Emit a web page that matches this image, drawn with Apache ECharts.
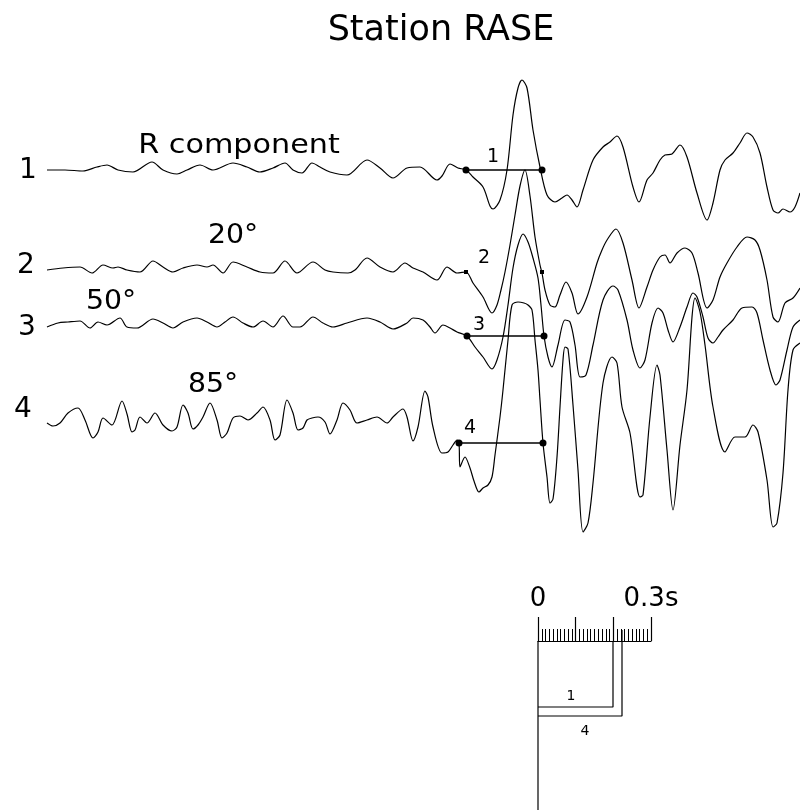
<!DOCTYPE html>
<html>
<head>
<meta charset="utf-8">
<script src="https://cdn.jsdelivr.net/npm/echarts@6/dist/echarts.min.js"></script>
<style>
  html, body { margin: 0; padding: 0; background: #fff; }
  #chart { width: 800px; height: 810px; }
</style>
</head>
<body>
<div id="chart"></div>
<script>
const trace1 = [[47,170],[65,170],[83,171],[97,167],[107,165],[118,170],[133,172],[152,162],[163,170],[177,174],[187,170],[200,165],[213,170],[233,163],[247,167],[260,172],[273,168],[285,163],[293,170],[302,173],[312,163],[320,167],[330,172],[347,175],[367,160],[380,168],[393,178],[407,168],[420,167],[437,180],[442,176],[450,164],[458,168],[466,170],[473,177],[483,187],[490,206],[493,209],[500,200],[507,170],[513,115],[518,88],[522,80],[527,88],[533,130],[540,167],[547,195],[555,202],[562,198],[567,195],[572,200],[577,207],[583,190],[593,160],[603,147],[610,142],[617,136],[623,147],[633,187],[639,202],[647,180],[653,173],[660,160],[665,155],[672,154],[680,145],[687,157],[697,193],[707,220],[713,203],[720,170],[725,160],[733,153],[740,143],[747,133],[753,137],[760,153],[767,187],[773,210],[778,213],[783,209],[790,212],[795,207],[800,193]]
const trace2 = [[47,270],[63,268],[80,267],[92,273],[103,265],[113,268],[118,267],[127,270],[140,272],[153,261],[163,267],[173,272],[183,268],[197,265],[207,267],[213,265],[223,273],[233,262],[247,267],[260,272],[273,273],[285,261],[297,273],[313,262],[325,270],[333,272],[348,273],[355,270],[367,258],[380,267],[393,272],[405,263],[413,268],[423,272],[437,280],[447,267],[457,273],[466,272],[473,283],[483,297],[492,313],[497,305],[501,290],[505,272],[510,245],[515,215],[520,186],[525,170],[530,196],[535,237],[540,265],[542,273],[545,290],[550,305],[555,307],[560,295],[566,282],[572,293],[578,314],[587,297],[597,263],[602,250],[607,240],[616,229],[623,243],[632,280],[639,308],[647,287],[653,270],[660,257],[665,255],[670,263],[677,253],[685,248],[692,253],[698,273],[707,308],[713,300],[720,277],[727,263],[737,247],[747,237],[755,240],[760,250],[767,280],[773,317],[778,322],[785,303],[793,298],[800,288]]
const trace3 = [[47,327],[58,323],[68,322],[80,321],[90,328],[98,322],[107,325],[120,318],[127,327],[137,328],[153,319],[163,323],[173,328],[183,322],[197,318],[207,322],[217,327],[225,322],[233,317],[243,323],[253,327],[263,321],[273,327],[283,316],[293,327],[300,327],[313,317],[323,323],[333,327],[347,323],[367,318],[380,322],[393,329],[407,323],[413,318],[423,320],[430,327],[435,333],[443,325],[450,328],[457,332],[467,336],[475,347],[483,357],[492,369],[497,360],[503,337],[508,305],[513,268],[518,245],[523,234],[528,242],[533,258],[538,278],[541,305],[544,336],[548,357],[552,367],[558,345],[565,320],[570,322],[575,345],[580,377],[586,375],[593,345],[603,300],[613,286],[618,290],[627,320],[633,350],[640,368],[645,360],[652,323],[658,308],[663,313],[668,330],[673,342],[680,327],[687,307],[693,293],[697,297],[703,317],[708,338],[713,343],[718,337],[723,330],[733,320],[742,308],[752,307],[757,313],[763,340],[770,370],[776,385],[780,380],[787,350],[793,327],[800,320]]
const trace4 = [[47,423],[53,426],[60,423],[68,413],[78,408],[85,420],[93,438],[98,432],[103,418],[112,425],[122,401],[127,414],[132,432],[135,430],[140,417],[147,423],[155,413],[163,425],[172,431],[177,427],[183,405],[188,413],[193,429],[198,425],[203,417],[210,403],[217,420],[222,438],[227,433],[233,418],[240,416],[248,420],[257,413],[263,407],[270,420],[275,440],[280,435],[287,400],[293,413],[298,430],[303,428],[307,420],[312,418],[318,417],[325,422],[330,434],[337,420],[343,403],[350,410],[357,423],[367,420],[377,417],[387,423],[393,417],[403,409],[407,417],[413,441],[418,427],[425,391],[428,397],[433,427],[442,453],[448,452],[453,445],[457,440],[459,443],[460,467],[465,457],[470,468],[474,481],[479,492],[483,488],[488,485],[492,477],[495,455],[500,417],[503,390],[508,340],[512,305],[518,302],[524,303],[528,305],[532,310],[535,340],[538,370],[540,400],[543,443],[547,477],[550,503],[553,499],[557,457],[560,407],[563,360],[565,347],[568,349],[573,405],[578,470],[583,532],[588,523],[593,483],[603,383],[612,357],[617,363],[622,407],[630,433],[640,497],[643,495],[650,417],[657,365],[660,375],[667,450],[673,510],[680,445],[687,390],[692,317],[695,298],[700,312],[705,345],[713,407],[725,452],[735,437],[745,437],[753,425],[758,432],[767,480],[773,527],[777,523],[783,473],[788,390],[793,350],[800,343]]

// pick markers (start/end of the first pulse) on each trace
const pick1 = [[466,170],[542,170]]
const pick2 = [[466,272],[542,272]]
const pick3 = [[467,336],[544,336]]
const pick4 = [[459,443],[543,443]]

// time scale bar, seconds
const scaleMin = 0
const scaleMax = 0.3
const scaleStep = 0.1

// pulse widths copied under the scale bar
const bracketBase = [[538,641],[538,810]]
const bracket1 = [[538,707],[613,707],[613,641]]
const bracket4 = [[538,716],[622,716],[622,630]]

const traceNames = ['1', '2', '3', '4']
const angleNames = ['R component', '20°', '50°', '85°']

const mChart = echarts.init(document.getElementById('chart'))

const font = '"DejaVu Sans", sans-serif'
const txt = (text, x, y, size, sx) => ({
  type: 'text',
  x: x,
  y: y,
  scaleX: sx || 1,
  style: {
    text: text,
    fill: '#000',
    font: size + 'px ' + font,
    align: 'center',
    verticalAlign: 'middle'
  }
})

const traceLine = (data) => ({
  type: 'line',
  xAxisIndex: 0,
  yAxisIndex: 0,
  data: data,
  showSymbol: false,
  smooth: 0.3,
  lineStyle: { color: '#000', width: 1.2 },
  silent: true
})

const pickLine = (data, withLine) => ({
  type: 'line',
  xAxisIndex: 0,
  yAxisIndex: 0,
  data: data,
  symbol: withLine ? 'circle' : 'rect',
  symbolSize: withLine ? 7 : 4,
  itemStyle: { color: '#000' },
  lineStyle: { color: '#000', width: withLine ? 1.4 : 0 },
  silent: true
})

const plainLine = (data) => ({
  type: 'line',
  xAxisIndex: 0,
  yAxisIndex: 0,
  data: data,
  showSymbol: false,
  lineStyle: { color: '#000', width: 1.2 },
  silent: true
})

const options = {
  animation: false,
  backgroundColor: '#fff',
  grid: [
    { left: 0, right: 0, top: 0, bottom: 0 },
    // scale bar
    { left: 538, width: 113, top: 641, height: 20 }
  ],
  xAxis: [
    { gridIndex: 0, type: 'value', min: 0, max: 800, show: false },
    {
      gridIndex: 1,
      type: 'value',
      position: 'top',
      min: scaleMin,
      max: scaleMax,
      interval: scaleStep,
      axisLine: { show: true, onZero: false, lineStyle: { color: '#000', width: 1.2 } },
      axisTick: { show: true, length: 24, lineStyle: { color: '#000', width: 1.2 } },
      minorTick: { show: true, splitNumber: 10, length: 12, lineStyle: { color: '#000', width: 1 } },
      splitLine: { show: false },
      axisLabel: {
        show: true,
        margin: 29,
        color: '#000',
        fontSize: 26,
        fontFamily: font,
        showMinLabel: true,
        showMaxLabel: true,
        formatter: (v) => {
          if (Math.abs(v - scaleMin) < 1e-6) return '0'
          if (Math.abs(v - scaleMax) < 1e-6) return '0.3s'
          return ''
        }
      }
    }
  ],
  yAxis: [
    { gridIndex: 0, type: 'value', min: 0, max: 810, inverse: true, show: false },
    { gridIndex: 1, type: 'value', min: 0, max: 1, show: false }
  ],
  series: [
    traceLine(trace1),
    traceLine(trace2),
    traceLine(trace3),
    traceLine(trace4),
    pickLine(pick1, true),
    pickLine(pick2, false),
    pickLine(pick3, true),
    pickLine(pick4, true),
    plainLine(bracketBase),
    plainLine(bracket1),
    plainLine(bracket4)
  ],
  graphic: [
    txt('Station RASE', 441, 31, 35),
    txt(traceNames[0], 28, 171, 28),
    txt(traceNames[1], 26, 266, 28),
    txt(traceNames[2], 27, 328, 28),
    txt(traceNames[3], 23, 410, 28),
    txt(angleNames[0], 239, 146, 27, 1.12),
    txt(angleNames[1], 233, 236, 27, 1.05),
    txt(angleNames[2], 111, 302, 27, 1.05),
    txt(angleNames[3], 213, 385, 27, 1.05),
    txt(traceNames[0], 493, 157, 19),
    txt(traceNames[1], 484, 258, 19),
    txt(traceNames[2], 479, 325, 19),
    txt(traceNames[3], 470, 428, 19),
    txt(traceNames[0], 571, 696, 14),
    txt(traceNames[3], 585, 731, 14)
  ]
}
mChart.setOption(options)
</script>
</body>
</html>
